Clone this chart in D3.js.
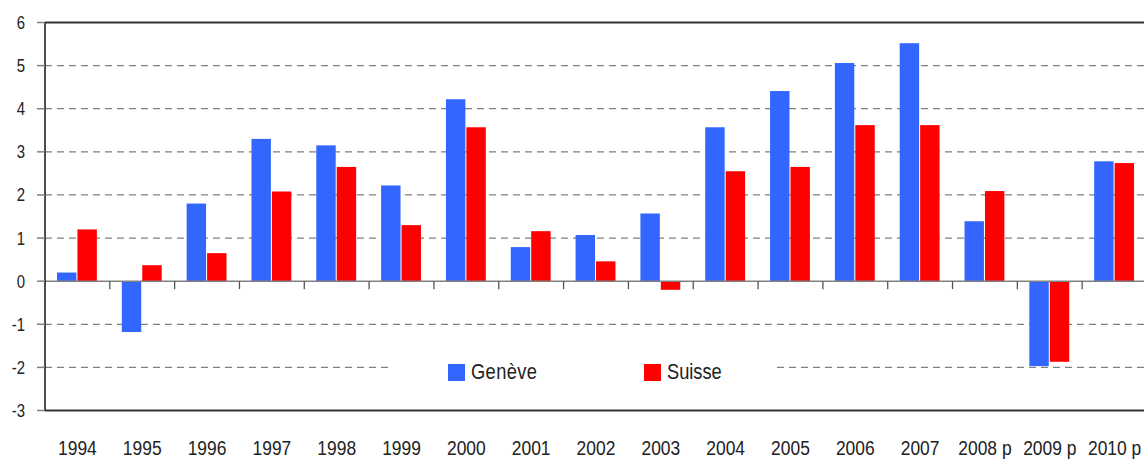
<!DOCTYPE html>
<html>
<head>
<meta charset="utf-8">
<script src="https://cdn.jsdelivr.net/npm/d3@7"></script>
<style>
  body { margin: 0; background: #fff; }
  text { font-family: "Liberation Sans", Arial, sans-serif; fill: #222; }
</style>
</head>
<body>
<div id="chart"></div>
<script>
const width = 1144;
const height = 460;

const years = ["1994", "1995", "1996", "1997", "1998", "1999", "2000", "2001", "2002",
    "2003", "2004", "2005", "2006", "2007", "2008 p", "2009 p", "2010 p"];
const geneve = [0.2, -1.18, 1.8, 3.3, 3.15, 2.22, 4.22, 0.79, 1.07, 1.57, 3.57, 4.41, 5.06, 5.52, 1.39, -1.97, 2.78];
const suisse = [1.2, 0.37, 0.65, 2.08, 2.65, 1.3, 3.57, 1.16, 0.46, -0.2, 2.55, 2.65, 3.62, 3.62, 2.09, -1.87, 2.74];
const seriesNames = ["Genève", "Suisse"];
const colors = ["#3366ff", "#ff0000"];
const yTicks = [-3, -2, -1, 0, 1, 2, 3, 4, 5, 6];

const margin = { left: 45, top: 22.5, right: -3, bottom: 50 };
const squeeze = 0.83; // narrow font look

const svg = d3.select('#chart')
    .append("svg")
    .attr('width', width)
    .attr('height', height);

const x = d3.scaleBand()
    .domain(years)
    .range([margin.left, width - margin.right]);

const y = d3.scaleLinear()
    .domain([-3, 6])
    .range([410.5, margin.top]);

const sub = d3.scaleBand()
    .domain(seriesNames)
    .range([x.bandwidth() * 0.185, x.bandwidth() * 0.8])
    .paddingInner(0.05);

// dashed gridlines
svg.append("g")
    .selectAll("line")
    .data(yTicks.filter(d => d !== 0 && d !== 6 && d !== -3))
    .enter().append("line")
    .attr("x1", margin.left)
    .attr("x2", width)
    .attr("y1", d => y(d))
    .attr("y2", d => y(d))
    .style("stroke", "#808080")
    .style("stroke-width", 1.3)
    .style("stroke-dasharray", "7,5");

// bars
const data = years.map((yr, i) => ({ year: yr, values: [geneve[i], suisse[i]] }));
const groups = svg.append("g")
    .selectAll("g")
    .data(data)
    .enter().append("g")
    .attr("transform", d => "translate(" + x(d.year) + ",0)");

groups.selectAll("rect")
    .data(d => d.values.map((v, i) => ({ name: seriesNames[i], value: v, color: colors[i] })))
    .enter().append("rect")
    .attr("x", d => sub(d.name))
    .attr("width", sub.bandwidth())
    .attr("y", d => y(Math.max(0, d.value)))
    .attr("height", d => Math.abs(y(d.value) - y(0)))
    .style("fill", d => d.color);

// zero line and category ticks
svg.append("line")
    .attr("x1", margin.left)
    .attr("x2", width)
    .attr("y1", y(0))
    .attr("y2", y(0))
    .style("stroke", "#808080")
    .style("stroke-width", 1.5);

svg.append("g")
    .selectAll("line")
    .data(years.slice(1))
    .enter().append("line")
    .attr("x1", d => x(d))
    .attr("x2", d => x(d))
    .attr("y1", y(0))
    .attr("y2", y(0) + 8)
    .style("stroke", "#555")
    .style("stroke-width", 1.3);

// frame: top and bottom
[6, -3].forEach(v => {
    svg.append("line")
        .attr("x1", margin.left)
        .attr("x2", width)
        .attr("y1", y(v))
        .attr("y2", y(v))
        .style("stroke", "#333")
        .style("stroke-width", 2);
});

// y axis
svg.append("line")
    .attr("x1", margin.left)
    .attr("x2", margin.left)
    .attr("y1", y(6))
    .attr("y2", y(-3))
    .style("stroke", "#111")
    .style("stroke-width", 1.5);

svg.append("g")
    .selectAll("line")
    .data(yTicks)
    .enter().append("line")
    .attr("x1", margin.left - 8)
    .attr("x2", margin.left)
    .attr("y1", d => y(d))
    .attr("y2", d => y(d))
    .style("stroke", "#808080")
    .style("stroke-width", 1.5);

svg.append("g")
    .selectAll("text")
    .data(yTicks)
    .enter().append("text")
    .attr("transform", d => "translate(25," + (y(d) + 6.5) + ") scale(" + squeeze + ",1)")
    .attr("text-anchor", "end")
    .style("font-size", "18px")
    .text(d => d);

// x labels
svg.append("g")
    .selectAll("text")
    .data(years)
    .enter().append("text")
    .attr("transform", d => "translate(" + (x(d) + x.bandwidth() / 2) + ",455) scale(" + squeeze + ",1)")
    .attr("text-anchor", "middle")
    .style("font-size", "21px")
    .text(d => d);

// legend
const legend = svg.append("g");
legend.append("rect")
    .attr("x", 392)
    .attr("y", 352)
    .attr("width", 380)
    .attr("height", 38)
    .style("fill", "#fff");

const legendX = [448, 644];
seriesNames.forEach((name, i) => {
    legend.append("rect")
        .attr("x", legendX[i])
        .attr("y", 364)
        .attr("width", 17)
        .attr("height", 17)
        .style("fill", colors[i]);
    legend.append("text")
        .attr("transform", "translate(" + (legendX[i] + 23) + ",379) scale(" + squeeze + ",1)")
        .style("font-size", "22px")
        .style("letter-spacing", i === 0 ? "0.5px" : "0px")
        .text(name);
});
</script>
</body>
</html>
